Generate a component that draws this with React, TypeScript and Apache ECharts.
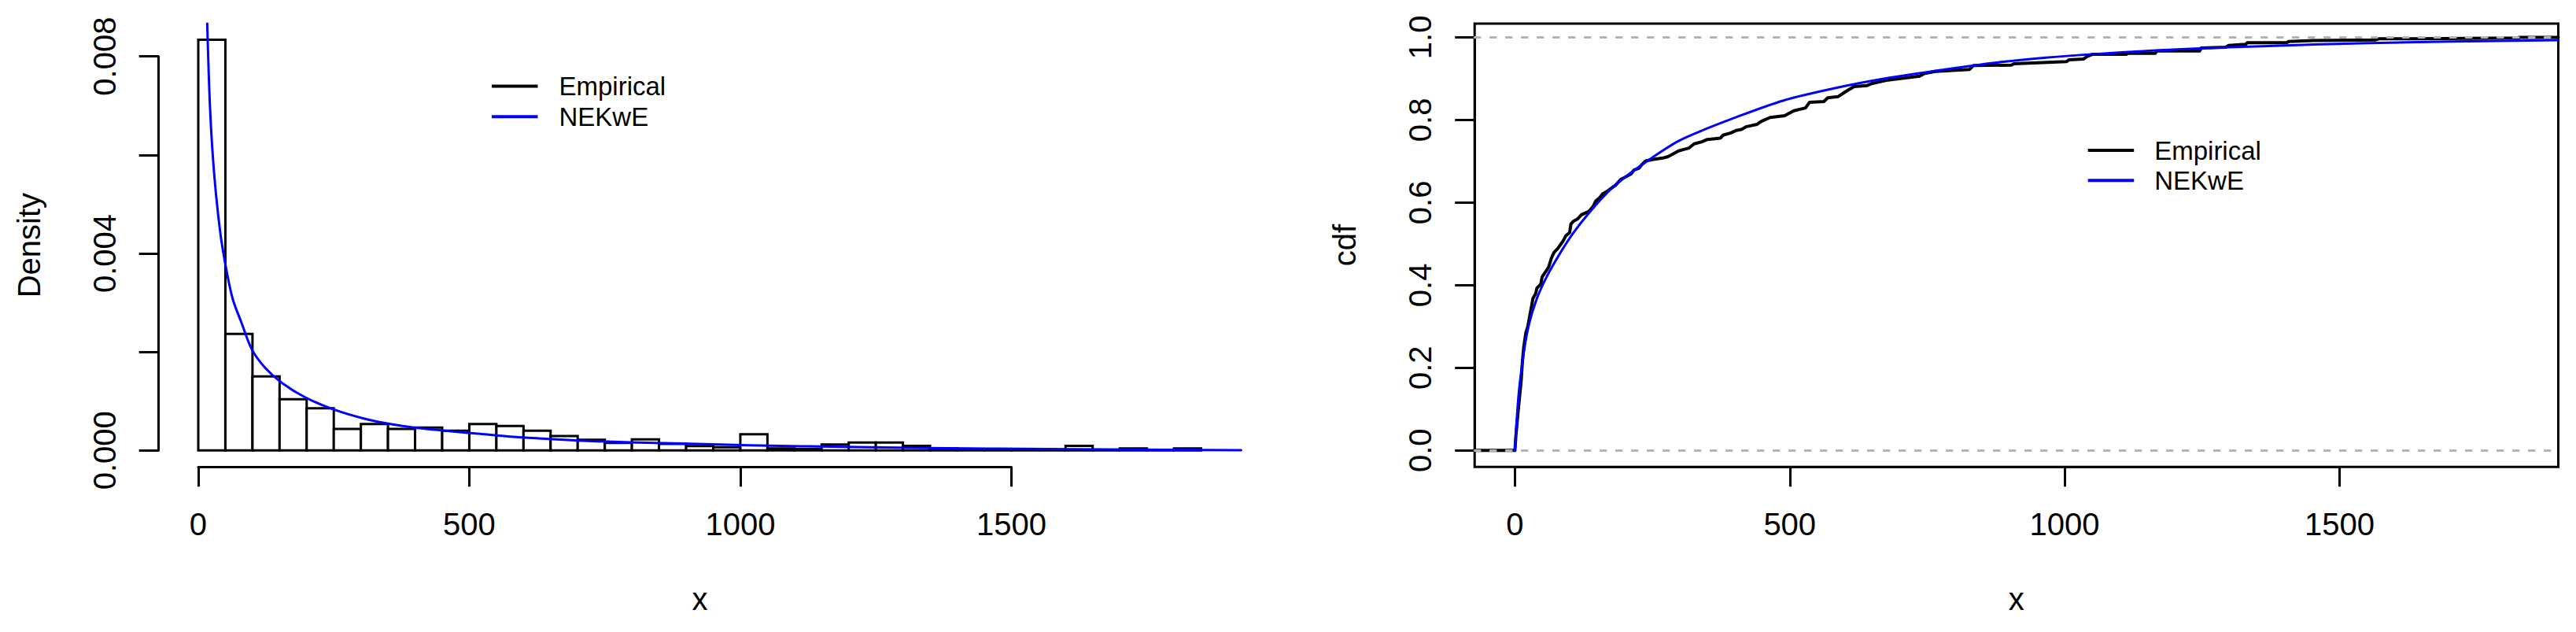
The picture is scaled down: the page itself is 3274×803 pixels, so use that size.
import React, { useEffect, useRef } from 'react';
import * as echarts from 'echarts';

// ---------------- data ----------------
const histBreaks = [0, 50, 100, 150, 200, 250, 300, 350, 400, 450, 500, 550, 600, 650, 700, 750, 800, 850, 900, 950, 1000,
  1050, 1100, 1150, 1200, 1250, 1300, 1350, 1400, 1450, 1500, 1550, 1600, 1650, 1700, 1750, 1800, 1850];
const histDensity = [0.00834, 0.002365, 0.001502, 0.001039, 0.000857, 0.000436, 0.000537, 0.000436, 0.000463, 0.0004,
  0.000537, 0.000495, 0.0004, 0.000292, 0.000218, 0.000154, 0.000224, 0.000133, 0.00009, 0.000064,
  0.00033, 0.00004, 0.00003, 0.000122, 0.00016, 0.00016, 0.000093, 0.00004, 0.00003, 0.00003,
  0.00002, 0, 0.000093, 0, 0.00004, 0, 0.00004];

// fitted NEKwE density (x, f(x))
const densityPoints = [[16.5, 0.00867], [21.8, 0.006934], [29.4, 0.005608], [40.8, 0.004406], [52.2, 0.003648],
  [63.6, 0.003073], [79.7, 0.002594], [98.4, 0.002061], [122.6, 0.001688], [154.8, 0.001368], [197.8, 0.001075],
  [251.5, 0.000825], [305.2, 0.000649], [358.9, 0.000527], [412.6, 0.000447], [466.3, 0.000388], [520, 0.000336],
  [573.8, 0.000281], [627.4, 0.000245], [681.1, 0.000213], [734.8, 0.000185], [795.7, 0.000166], [1015, 0.000106],
  [1234.4, 0.000064], [1453.7, 0.000037], [1672.9, 0.000021], [1924, 0.000005]];

// empirical cdf (x, F(x))
const ecdfPoints = [[-73.3, 0], [0, 0], [1.8, 0.036], [6.6, 0.105], [11.3, 0.1675], [13.7, 0.216], [16.1, 0.2505],
  [19.9, 0.285], [23.3, 0.299], [25.7, 0.316], [32.8, 0.368], [37.6, 0.379], [40, 0.393], [47.1, 0.403], [49.5, 0.42],
  [56.7, 0.434], [61.4, 0.444], [66.2, 0.465], [71, 0.479], [78.1, 0.489], [87.7, 0.507], [92.4, 0.519], [99.6, 0.5275],
  [101.9, 0.548], [106.7, 0.555], [113.8, 0.56], [121, 0.5705], [130.5, 0.576], [135.4, 0.5795], [142.5, 0.591],
  [147.3, 0.604], [154.4, 0.612], [159.2, 0.6205], [168.7, 0.628], [175.9, 0.635], [183, 0.642], [192.6, 0.656],
  [202.1, 0.6626], [211.7, 0.6697], [216.4, 0.6786], [226, 0.6834], [230.7, 0.6917], [237.9, 0.7007], [249.8, 0.7041],
  [268.9, 0.7077], [278.4, 0.7112], [287.9, 0.718], [297.5, 0.7249], [307, 0.7285], [316.6, 0.732], [326.1, 0.7422],
  [340.4, 0.7472], [349.9, 0.7527], [373.8, 0.7561], [378.5, 0.763], [392.8, 0.7685], [402.5, 0.7745], [411.9, 0.7769],
  [421.4, 0.7838], [440.5, 0.7893], [445.3, 0.7942], [450, 0.7977], [464.3, 0.806], [490.6, 0.81], [507.3, 0.822],
  [528.7, 0.829], [536, 0.8427], [562, 0.8445], [569, 0.8535], [588.2, 0.8565], [602.5, 0.8693], [616.8, 0.8807],
  [640.6, 0.8832], [650.2, 0.8884], [678.8, 0.8966], [736, 0.9061], [745.6, 0.9126], [764.7, 0.9175], [826.7, 0.922],
  [833.9, 0.9316], [903, 0.9327], [907.9, 0.936], [1003.3, 0.941], [1008, 0.9455], [1034.3, 0.9474], [1041.4, 0.9537],
  [1051, 0.9589], [1112, 0.9589], [1115, 0.9613], [1165, 0.9613], [1167.7, 0.967], [1245.7, 0.967], [1248.5, 0.974],
  [1293, 0.976], [1298.5, 0.9804], [1329.3, 0.983], [1332, 0.9869], [1404.4, 0.9869], [1407.2, 0.9899], [1451.8, 0.992],
  [1565.8, 0.9938], [1571.4, 0.9964], [1638, 0.9966], [1826, 0.9983], [1826, 1], [1898, 1]];

// fitted NEKwE cdf (x, F(x))
const cdfPoints = [[0, 0], [6.6, 0.1328], [16.1, 0.2368], [25.7, 0.306], [40, 0.368], [59.1, 0.4237], [82.9, 0.479],
  [106.8, 0.5275], [135.4, 0.576], [173.5, 0.6315], [211.7, 0.673], [249.9, 0.709], [297.6, 0.749], [345.3, 0.777],
  [393, 0.802], [488.4, 0.847], [583.7, 0.8775], [679.2, 0.9017], [774.6, 0.9207], [869.9, 0.938], [965.4, 0.9507],
  [1060.8, 0.96], [1203.9, 0.9709], [1371, 0.979], [1538, 0.9855], [1705, 0.9899], [1898, 0.993]];

const xTicks = [0, 500, 1000, 1500];
const densityTicks = [0, 0.002, 0.004, 0.006, 0.008];
const cdfTicks = [0, 0.2, 0.4, 0.6, 0.8, 1.0];
const legendNames = ['Empirical', 'NEKwE'];
const refLines = [0, 1];

const FONT = '"Liberation Sans", Arial, Helvetica, sans-serif';
const BLUE = '#0000ff';

// plot regions (pixels) and their data ranges
const L = { left: 201.7, top: 30, width: 1375.8, height: 563.3, xMin: -73, xMax: 1924, yMin: -0.0003356, yMax: 0.008666 };
const R = { left: 1874.2, top: 30, width: 1377.3, height: 563.3, xMin: -73.3, xMax: 1898, yMin: -0.04, yMax: 1.0331 };

function px(P: any, v: number) { return P.left + (v - P.xMin) / (P.xMax - P.xMin) * P.width; }
function py(P: any, v: number) { return P.top + (P.yMax - v) / (P.yMax - P.yMin) * P.height; }

export default function App() {
  const ref = useRef<HTMLDivElement>(null);
  useEffect(() => {
    if (!ref.current) return;
    const chart = echarts.init(ref.current, null, { renderer: 'svg' });

    const histData = histDensity.map((d, i) => [histBreaks[i], histBreaks[i + 1], d]);

    const hiddenX = (P: any, grid: number, name: string) => ({
      type: 'value', gridIndex: grid, min: P.xMin, max: P.xMax,
      axisLine: { show: false }, axisTick: { show: false }, axisLabel: { show: false }, splitLine: { show: false },
      name, nameLocation: 'middle', nameGap: 148,
      nameTextStyle: { fontSize: 40, fontFamily: FONT, color: '#000' },
    });
    const hiddenY = (P: any, grid: number, name: string) => ({
      type: 'value', gridIndex: grid, min: P.yMin, max: P.yMax,
      axisLine: { show: false }, axisTick: { show: false }, axisLabel: { show: false }, splitLine: { show: false },
      name, nameLocation: 'middle', nameGap: 145,
      nameTextStyle: { fontSize: 40, fontFamily: FONT, color: '#000' },
    });
    const tickAxis = (grid: number, ticks: number[], fmt: any, margin: number, extra: any) => ({
      type: 'value', gridIndex: grid, min: ticks[0], max: ticks[ticks.length - 1], interval: ticks[1] - ticks[0],
      axisLine: { show: true, onZero: false, lineStyle: { color: '#000', width: 3 } },
      axisTick: { show: true, length: 25, lineStyle: { color: '#000', width: 3 } },
      axisLabel: { show: true, color: '#000', fontSize: 40, fontFamily: FONT, margin, formatter: fmt },
      splitLine: { show: false },
      ...extra,
    });
    const dummy = (grid: number) => ({ type: 'value', gridIndex: grid, min: 0, max: 1, show: false });

    const legendBase = (left: number, top: number, gap: number, pad: number) => ({
      left, top, orient: 'vertical', itemWidth: 58.5, itemHeight: 4, itemGap: gap, padding: 0,
      selectedMode: false, icon: 'rect', itemStyle: { borderWidth: 0 },
      textStyle: { fontSize: 33, fontFamily: FONT, color: '#000', padding: [0, 0, 0, pad] },
      data: [
        { name: legendNames[0], icon: 'rect', itemStyle: { color: '#000', borderWidth: 0 } },
        { name: legendNames[1], icon: 'rect', itemStyle: { color: BLUE, borderWidth: 0 } },
      ],
    });

    const option: any = {
      animation: false,
      backgroundColor: '#ffffff',
      textStyle: { fontFamily: FONT },
      grid: [
        { left: L.left, top: L.top, width: L.width, height: L.height, outerBoundsMode: 'none', containLabel: false },
        { left: px(L, xTicks[0]), top: L.top, width: px(L, xTicks[3]) - px(L, xTicks[0]), height: L.height, outerBoundsMode: 'none', containLabel: false },
        { left: L.left, top: py(L, densityTicks[4]), width: 100, height: py(L, densityTicks[0]) - py(L, densityTicks[4]), outerBoundsMode: 'none', containLabel: false },
        { left: R.left, top: R.top, width: R.width, height: R.height, show: true, borderColor: '#000', borderWidth: 3, backgroundColor: 'transparent', outerBoundsMode: 'none', containLabel: false },
        { left: px(R, xTicks[0]), top: R.top, width: px(R, xTicks[3]) - px(R, xTicks[0]), height: R.height, outerBoundsMode: 'none', containLabel: false },
        { left: R.left, top: py(R, cdfTicks[5]), width: 100, height: py(R, cdfTicks[0]) - py(R, cdfTicks[5]), outerBoundsMode: 'none', containLabel: false },
      ],
      xAxis: [
        hiddenX(L, 0, 'x'),
        tickAxis(1, xTicks, (v: number) => String(v), 53, { position: 'bottom' }),
        dummy(2),
        hiddenX(R, 3, 'x'),
        tickAxis(4, xTicks, (v: number) => String(v), 53, { position: 'bottom' }),
        dummy(5),
      ],
      yAxis: [
        hiddenY(L, 0, 'Density'),
        dummy(1),
        tickAxis(2, densityTicks, (v: number, i: number) => (i % 2 === 0 ? v.toFixed(3) : ''), 49, { position: 'left', axisLabel: { show: true, color: '#000', fontSize: 40, fontFamily: FONT, margin: 49, rotate: 90, formatter: (v: number, i: number) => (i % 2 === 0 ? v.toFixed(3) : '') } }),
        hiddenY(R, 3, 'cdf'),
        dummy(4),
        tickAxis(5, cdfTicks, (v: number) => v.toFixed(1), 49, { position: 'left', axisLabel: { show: true, color: '#000', fontSize: 40, fontFamily: FONT, margin: 49, rotate: 90, formatter: (v: number) => v.toFixed(1) } }),
      ],
      legend: [
        legendBase(625, 109.5 - 16.5, 5.8, 22),
        legendBase(2653.7, 191 - 16.5, 5.3, 21),
      ],
      series: [
        {
          type: 'custom', name: legendNames[0], xAxisIndex: 0, yAxisIndex: 0, data: histData,
          encode: { x: [0, 1], y: 2 }, itemStyle: { color: '#000' }, z: 2, silent: true,
          renderItem: (params: any, api: any) => {
            const a = api.coord([api.value(0), api.value(2)]);
            const b = api.coord([api.value(1), 0]);
            return {
              type: 'rect',
              shape: { x: a[0], y: a[1], width: b[0] - a[0], height: b[1] - a[1] },
              style: { fill: '#ffffff', stroke: '#000000', lineWidth: 3 },
            };
          },
        },
        {
          type: 'line', name: legendNames[1], xAxisIndex: 0, yAxisIndex: 0, data: densityPoints,
          symbol: 'none', showSymbol: false, smooth: 0.3, clip: true, z: 3, silent: true,
          lineStyle: { color: BLUE, width: 3, cap: 'round', join: 'round' }, itemStyle: { color: BLUE },
        },
        {
          type: 'line', name: legendNames[0], xAxisIndex: 3, yAxisIndex: 3, data: ecdfPoints,
          symbol: 'none', showSymbol: false, clip: true, z: 2, silent: true,
          lineStyle: { color: '#000', width: 4, cap: 'round', join: 'round' }, itemStyle: { color: '#000' },
          markLine: {
            silent: true, symbol: ['none', 'none'], label: { show: false },
            lineStyle: { color: '#b3b3b3', width: 3, type: [7, 13], cap: 'round' },
            data: refLines.map((v) => ({ yAxis: v })),
          },
        },
        {
          type: 'line', name: legendNames[1], xAxisIndex: 3, yAxisIndex: 3, data: cdfPoints,
          symbol: 'none', showSymbol: false, smooth: 0.3, clip: true, z: 6, silent: true,
          lineStyle: { color: BLUE, width: 3, cap: 'round', join: 'round' }, itemStyle: { color: BLUE },
        },
      ],
    };
    chart.setOption(option);
    return () => chart.dispose();
  }, []);
  return <div ref={ref} style={{ position: 'absolute', left: 0, top: 0, width: 3274, height: 803 }} />;
}
